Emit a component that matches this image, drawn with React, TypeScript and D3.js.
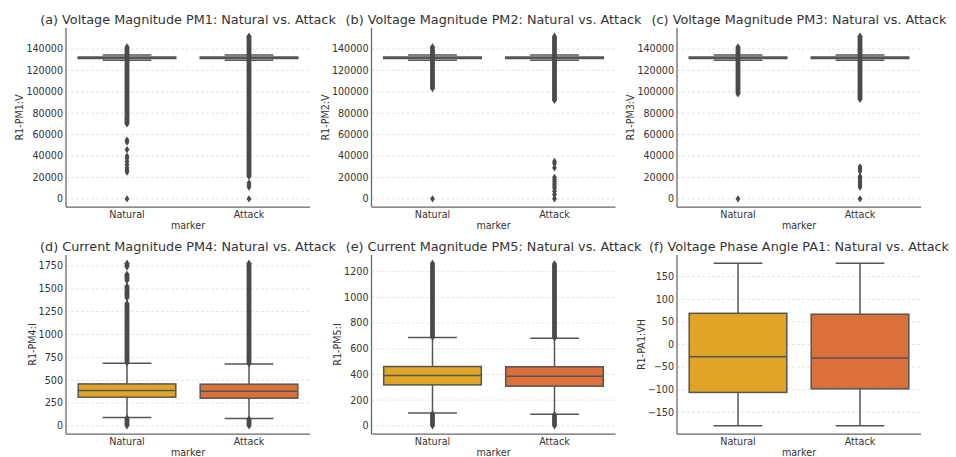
import React, { useEffect, useRef } from 'react';
import * as d3 from 'd3';

// categories and colours
const categories = ['Natural', 'Attack'];
const boxColors = ['#E0A526', '#DC703A'];

const titles = [
  '(a) Voltage Magnitude PM1: Natural vs. Attack',
  '(b) Voltage Magnitude PM2: Natural vs. Attack',
  '(c) Voltage Magnitude PM3: Natural vs. Attack',
  '(d) Current Magnitude PM4: Natural vs. Attack',
  '(e) Current Magnitude PM5: Natural vs. Attack',
  '(f) Voltage Phase Angle PA1: Natural vs. Attack',
];
const yLabels = ['R1-PM1:V', 'R1-PM2:V', 'R1-PM3:V', 'R1-PM4:I', 'R1-PM5:I', 'R1-PA1:VH'];

// tick labels
const ticksVoltage = [0, 20000, 40000, 60000, 80000, 100000, 120000, 140000];
const ticksPM4 = [0, 250, 500, 750, 1000, 1250, 1500, 1750];
const ticksPM5 = [0, 200, 400, 600, 800, 1000, 1200];
const ticksPA1 = [-150, -100, -50, 0, 50, 100, 150];

// box stats: q1, median, q3, lower whisker, upper whisker
const pm1Natural = [131100, 131800, 132500, 129400, 134400];
const pm1Attack = [131100, 131800, 132500, 129400, 134400];
const pm2Natural = [131100, 131800, 132500, 129400, 134400];
const pm2Attack = [131100, 131800, 132500, 129400, 134400];
const pm3Natural = [131100, 131800, 132500, 129400, 134400];
const pm3Attack = [131100, 131800, 132500, 129400, 134400];
const pm4Natural = [314, 386, 459, 91, 686];
const pm4Attack = [303, 379, 456, 80, 678];
const pm5Natural = [319, 392, 462, 101, 688];
const pm5Attack = [309, 387, 460, 91, 683];
const pa1Natural = [-106, -27, 69, -180, 180];
const pa1Attack = [-98, -30, 67, -180, 180];

// outliers: dense runs [low, high] and single fliers
const pm1NaturalBands = [[70000, 142000]];
const pm1NaturalPoints = [55000, 53000, 46000, 40000, 38000, 35000, 32000, 29000, 27000, 25000, 0];
const pm1AttackBands = [[21000, 152000]];
const pm1AttackPoints = [15000, 13000, 11000, 0];
const pm2NaturalBands = [[103000, 142000]];
const pm2NaturalPoints = [0];
const pm2AttackBands = [[92000, 152000]];
const pm2AttackPoints = [35000, 33000, 29000, 20000, 18000, 16000, 14000, 12000, 10000, 7000, 4000, 0];
const pm3NaturalBands = [[98000, 142000]];
const pm3NaturalPoints = [0];
const pm3AttackBands = [[93000, 152000]];
const pm3AttackPoints = [30000, 28000, 26000, 21000, 19000, 17000, 15000, 13000, 11000, 0];
const pm4NaturalBands = [[0, 85], [690, 1340], [1400, 1530], [1590, 1660], [1740, 1781]];
const pm4AttackBands = [[0, 75], [680, 1781]];
const pm5NaturalBands = [[0, 95], [690, 1267]];
const pm5AttackBands = [[0, 88], [685, 1262]];

const panels = [
  { ticks: ticksVoltage, series: [
    { box: pm1Natural, bands: pm1NaturalBands, points: pm1NaturalPoints },
    { box: pm1Attack, bands: pm1AttackBands, points: pm1AttackPoints }] },
  { ticks: ticksVoltage, series: [
    { box: pm2Natural, bands: pm2NaturalBands, points: pm2NaturalPoints },
    { box: pm2Attack, bands: pm2AttackBands, points: pm2AttackPoints }] },
  { ticks: ticksVoltage, series: [
    { box: pm3Natural, bands: pm3NaturalBands, points: pm3NaturalPoints },
    { box: pm3Attack, bands: pm3AttackBands, points: pm3AttackPoints }] },
  { ticks: ticksPM4, series: [
    { box: pm4Natural, bands: pm4NaturalBands, points: [] },
    { box: pm4Attack, bands: pm4AttackBands, points: [] }] },
  { ticks: ticksPM5, series: [
    { box: pm5Natural, bands: pm5NaturalBands, points: [] },
    { box: pm5Attack, bands: pm5AttackBands, points: [] }] },
  { ticks: ticksPA1, series: [
    { box: pa1Natural, bands: [], points: [] },
    { box: pa1Attack, bands: [], points: [] }] },
];

const WIDTH = 956;
const HEIGHT = 457;
const colLefts = [66, 371.5, 677];
const rowTops = [28, 255];
const axW = 244;
const axH = 179;
const textColor = '#333';
const lineColor = '#555';
const flierColor = '#4a4a4a';
const font = 'DejaVu Sans, sans-serif';

const App = () => {
  const svgRef = useRef<SVGSVGElement>(null);

  useEffect(() => {
    document.body.style.margin = '0';
    const svg = d3.select(svgRef.current);
    svg.selectAll('*').remove();
    svg.style('font-family', font);

    panels.forEach((panel, pi) => {
      const left = colLefts[pi % 3];
      const top = rowTops[Math.floor(pi / 3)];
      const g = svg.append('g');

      // y extent from all values, with matplotlib's 5% margin
      const vals: number[] = [];
      panel.series.forEach(s => {
        vals.push(...s.box);
        s.bands.forEach(b => vals.push(...b));
        vals.push(...s.points);
      });
      const [mn, mx] = d3.extent(vals) as [number, number];
      const pad = (mx - mn) * 0.05;
      const y = d3.scaleLinear().domain([mn - pad, mx + pad]).range([top + axH, top]);
      const x = d3.scaleBand().domain(categories).range([left, left + axW]).padding(0);
      const boxW = x.bandwidth() * 0.8;
      const capW = boxW * 0.5;

      // grid
      g.selectAll('.grid')
        .data(panel.ticks)
        .enter()
        .append('line')
        .attr('x1', left)
        .attr('x2', left + axW)
        .attr('y1', d => y(d))
        .attr('y2', d => y(d))
        .attr('stroke', '#dcdcdc')
        .attr('stroke-width', 0.8)
        .attr('stroke-dasharray', '3,2');

      panel.series.forEach((s, si) => {
        const cx = (x(categories[si]) as number) + x.bandwidth() / 2;
        const [q1, med, q3, lo, hi] = s.box;
        const sg = g.append('g');

        // whiskers
        sg.append('line')
          .attr('x1', cx).attr('x2', cx)
          .attr('y1', y(q3)).attr('y2', y(hi))
          .attr('stroke', lineColor).attr('stroke-width', 1.5);
        sg.append('line')
          .attr('x1', cx).attr('x2', cx)
          .attr('y1', y(q1)).attr('y2', y(lo))
          .attr('stroke', lineColor).attr('stroke-width', 1.5);
        [lo, hi].forEach(v => {
          sg.append('line')
            .attr('x1', cx - capW / 2).attr('x2', cx + capW / 2)
            .attr('y1', y(v)).attr('y2', y(v))
            .attr('stroke', lineColor).attr('stroke-width', 1.5);
        });

        // box
        sg.append('rect')
          .attr('x', cx - boxW / 2)
          .attr('y', y(q3))
          .attr('width', boxW)
          .attr('height', Math.max(0.5, y(q1) - y(q3)))
          .attr('fill', boxColors[si])
          .attr('stroke', lineColor)
          .attr('stroke-width', 1.5);
        sg.append('line')
          .attr('x1', cx - boxW / 2).attr('x2', cx + boxW / 2)
          .attr('y1', y(med)).attr('y2', y(med))
          .attr('stroke', lineColor).attr('stroke-width', 1.5);

        // fliers: dense runs of thin diamonds, then single diamonds
        const hw = 2.4;
        const hh = 3.6;
        s.bands.forEach(([b0, b1]) => {
          const yt = y(b1);
          const yb = y(b0);
          sg.append('polygon')
            .attr('points', [
              [cx, yt - hh], [cx + hw, yt], [cx + hw, yb], [cx, yb + hh], [cx - hw, yb], [cx - hw, yt],
            ].map(p => p.join(',')).join(' '))
            .attr('fill', flierColor);
        });
        sg.selectAll('.flier')
          .data(s.points)
          .enter()
          .append('polygon')
          .attr('points', d => {
            const py = y(d);
            return `${cx},${py - hh} ${cx + hw},${py} ${cx},${py + hh} ${cx - hw},${py}`;
          })
          .attr('fill', flierColor);
      });

      // spines
      g.append('line')
        .attr('x1', left).attr('x2', left)
        .attr('y1', top).attr('y2', top + axH)
        .attr('stroke', '#666').attr('stroke-width', 1.25);
      g.append('line')
        .attr('x1', left).attr('x2', left + axW)
        .attr('y1', top + axH).attr('y2', top + axH)
        .attr('stroke', '#666').attr('stroke-width', 1.25);

      // y tick labels
      const fmt = d3.format('d');
      const tg = g.append('g');
      tg.selectAll('text')
        .data(panel.ticks)
        .enter()
        .append('text')
        .attr('x', left - 3)
        .attr('y', d => y(d))
        .attr('dy', '0.35em')
        .attr('text-anchor', 'end')
        .attr('font-size', 9.6)
        .attr('fill', textColor)
        .text(d => fmt(d));

      // x tick labels
      g.selectAll('.xt')
        .data(categories)
        .enter()
        .append('text')
        .attr('x', d => (x(d) as number) + x.bandwidth() / 2)
        .attr('y', top + axH + 11)
        .attr('text-anchor', 'middle')
        .attr('font-size', 9.6)
        .attr('fill', textColor)
        .text(d => d);

      // axis labels
      g.append('text')
        .attr('x', left + axW / 2)
        .attr('y', top + axH + 21.5)
        .attr('text-anchor', 'middle')
        .attr('font-size', 9.6)
        .attr('fill', textColor)
        .text('marker');

      const bb = (tg.node() as SVGGElement).getBBox();
      const lx = bb.x - 3;
      const ly = top + axH / 2;
      g.append('text')
        .attr('transform', `translate(${lx},${ly}) rotate(-90)`)
        .attr('text-anchor', 'middle')
        .attr('font-size', 9.6)
        .attr('fill', textColor)
        .text(yLabels[pi]);

      // title
      g.append('text')
        .attr('x', left + axW / 2)
        .attr('y', top - 4)
        .attr('text-anchor', 'middle')
        .attr('font-size', 12.8)
        .attr('fill', textColor)
        .text(titles[pi]);
    });
  }, []);

  return <svg ref={svgRef} width={WIDTH} height={HEIGHT} style={{ display: 'block', background: '#fff' }} />;
};

export default App;
